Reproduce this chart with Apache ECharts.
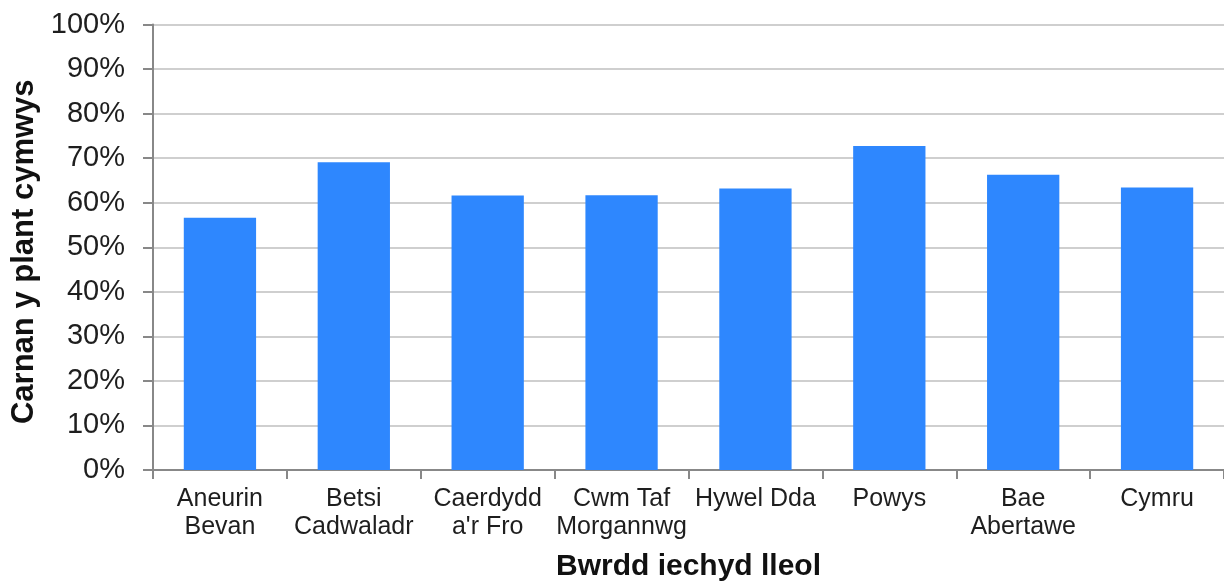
<!DOCTYPE html>
<html>
<head>
<meta charset="utf-8">
<script src="https://cdn.jsdelivr.net/npm/echarts@6/dist/echarts.min.js"></script>
<style>
html,body{margin:0;padding:0;background:#fff;}
#chart{width:1224px;height:587px;}
</style>
</head>
<body>
<div id="chart"></div>
<script>
const categories = ['Aneurin\nBevan', 'Betsi\nCadwaladr', 'Caerdydd\na\'r Fro', 'Cwm Taf\nMorgannwg', 'Hywel Dda', 'Powys', 'Bae\nAbertawe', 'Cymru'];
const values = [56.6, 69.1, 61.6, 61.7, 63.2, 72.7, 66.3, 63.4];
const xTitle = 'Bwrdd iechyd lleol';
const yTitle = 'Carnan y plant cymwys';

const chart = echarts.init(document.getElementById('chart'), null, {renderer: 'canvas'});
chart.setOption({
  animation: false,
  textStyle: {fontFamily: 'Liberation Sans, Arial, sans-serif'},
  grid: {left: 153, top: 24.5, width: 1079, height: 450, containLabel: false},
  xAxis: {
    type: 'category',
    data: categories,
    name: xTitle,
    nameLocation: 'middle',
    nameGap: 82,
    nameTextStyle: {fontSize: 30, fontWeight: 'bold', color: '#111', fontFamily: 'Liberation Sans, Arial, sans-serif'},
    axisLine: {lineStyle: {color: '#888', width: 2}},
    axisTick: {show: true, alignWithLabel: false, length: 9, lineStyle: {color: '#888', width: 2}},
    axisLabel: {fontSize: 25, color: '#1e1e1e', lineHeight: 28, margin: 15, interval: 0, fontFamily: 'Liberation Sans, Arial, sans-serif'}
  },
  yAxis: {
    type: 'value',
    min: 0, max: 100, interval: 10,
    name: yTitle,
    nameLocation: 'middle',
    nameGap: 111,
    nameTextStyle: {fontSize: 31, fontWeight: 'bold', color: '#111', padding: [0, 9, 0, 0], fontFamily: 'Liberation Sans, Arial, sans-serif'},
    axisLine: {show: true, lineStyle: {color: '#888', width: 2}},
    axisTick: {show: true, length: 10, lineStyle: {color: '#888', width: 2}},
    axisLabel: {fontSize: 29, color: '#1e1e1e', margin: 28, formatter: '{value}%', fontFamily: 'Liberation Sans, Arial, sans-serif'},
    splitLine: {lineStyle: {color: '#cfcfcf', width: 2}}
  },
  series: [{
    type: 'bar',
    data: values,
    barWidth: '54%',
    itemStyle: {color: '#2e87fe'}
  }]
});
</script>
</body>
</html>
